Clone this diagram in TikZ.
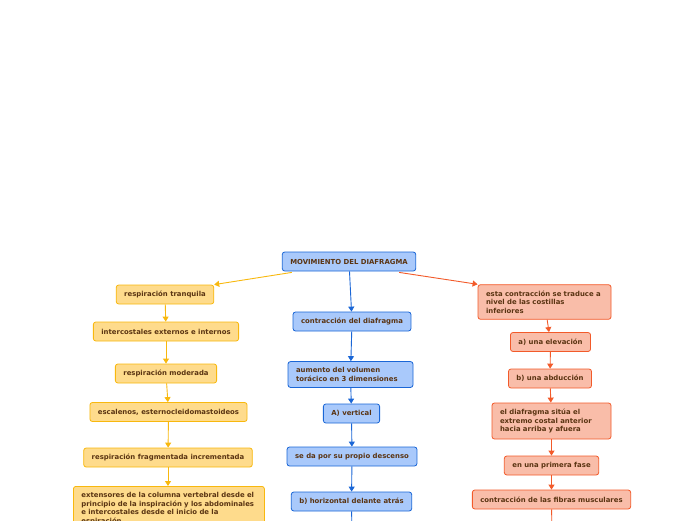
\documentclass[tikz,border=0pt]{standalone}
\usepackage{fontspec}
\setmainfont{DejaVu Sans}
\usetikzlibrary{arrows.meta}
\definecolor{txtbrown}{HTML}{5A3412}
\definecolor{bluefill}{HTML}{A9C9FB}
\definecolor{blueline}{HTML}{1A66D6}
\definecolor{yelfill}{HTML}{FEDB8C}
\definecolor{yelline}{HTML}{F8B80E}
\definecolor{salfill}{HTML}{F9BDA9}
\definecolor{salline}{HTML}{F25A2A}
\begin{document}
\begin{tikzpicture}[
    x=1pt, y=-1pt,
    every node/.style={rectangle, draw, rounded corners=2.5pt, line width=0.8pt, font=\fontsize{6.9}{8.5}\selectfont\bfseries, text=txtbrown, inner xsep=8pt, minimum height=19pt},
    blu/.style={fill=bluefill, draw=blueline},
    yel/.style={fill=yelfill, draw=yelline},
    sal/.style={fill=salfill, draw=salline},
    multi/.style={align=left, minimum height=0pt, inner ysep=6pt, text width=#1},
    bluarr/.style={draw=blueline, line width=0.9pt, -{Triangle[length=5pt,width=6pt]}},
    yelarr/.style={draw=yelline, line width=0.9pt, -{Triangle[length=5pt,width=6pt]}},
    salarr/.style={draw=salline, line width=0.9pt, -{Triangle[length=5pt,width=6pt]}}
]
    \clip (0,0) rectangle (696,520);
    \useasboundingbox (0,0) rectangle (696,520);

    % root
    \node[blu] (root) at (349,261.5) {MOVIMIENTO DEL DIAFRAGMA};

    % left column
    \node[yel] (resptranq) at (165,294.5) {respiración tranquila};
    \node[yel] (intercost) at (166,331.5) {intercostales externos e internos};
    \node[yel] (respmod) at (166,373.5) {respiración moderada};
    \node[yel] (escalenos) at (168.5,412) {escalenos, esternocleidomastoideos};
    \node[yel] (respfrag) at (168,457.5) {respiración fragmentada incrementada};
    \node[yel, multi=175pt, anchor=north west] (extensores) at (73,486) {extensores de la columna vertebral desde el\\principio de la inspiración y los abdominales\\e intercostales desde el inicio de la\\espiración};

    % center column
    \node[blu] (contrdiaf) at (352,321.5) {contracción del diafragma};
    \node[blu, multi=109pt] (aumento) at (350.5,374.5) {aumento del volumen\\torácico en 3 dimensiones};
    \node[blu] (vertical) at (351.5,413.5) {A) vertical};
    \node[blu] (descenso) at (352,456.5) {se da por su propio descenso};
    \node[blu] (horizontal) at (351.5,501.5) {b) horizontal delante atrás};
    \coordinate (horizbelow) at (352,540);

    % right column
    \node[sal, multi=117pt] (traduce) at (544.5,302) {esta contracción se traduce a\\nivel de las costillas\\inferiores};
    \node[sal] (elevacion) at (550.5,342) {a) una elevación};
    \node[sal] (abduccion) at (550,378.5) {b) una abducción};
    \node[sal, multi=103pt] (situa) at (551.5,421) {el diafragma sitúa el\\extremo costal anterior\\hacia arriba y afuera};
    \node[sal] (primfase) at (551.5,465.5) {en una primera fase};
    \node[sal] (fibras) at (551.5,499.5) {contracción de las fibras musculares};
    \coordinate (fibrasbelow) at (552,540);

    % connectors
    \draw[yelarr] (root.south west) ++(10,1) -- (resptranq.north east);
    \draw[bluarr] (root) -- (contrdiaf);
    \draw[salarr] (root.south east) ++(-17,1) -- (traduce.north west);

    \draw[yelarr] (resptranq) -- (intercost);
    \draw[yelarr] (intercost) -- (respmod);
    \draw[yelarr] (respmod) -- (escalenos);
    \draw[yelarr] (escalenos) -- (respfrag);
    \draw[yelarr] (respfrag) -- (respfrag |- extensores.north);

    \draw[bluarr] (contrdiaf) -- (aumento);
    \draw[bluarr] (aumento) -- (vertical);
    \draw[bluarr] (vertical) -- (descenso);
    \draw[bluarr] (descenso) -- (horizontal);
    \draw[bluarr] (horizontal) -- (horizbelow);

    \draw[salarr] (traduce) -- (elevacion);
    \draw[salarr] (elevacion) -- (abduccion);
    \draw[salarr] (abduccion) -- (situa);
    \draw[salarr] (situa) -- (primfase);
    \draw[salarr] (primfase) -- (fibras);
    \draw[salarr] (fibras) -- (fibrasbelow);
\end{tikzpicture}
\end{document}
